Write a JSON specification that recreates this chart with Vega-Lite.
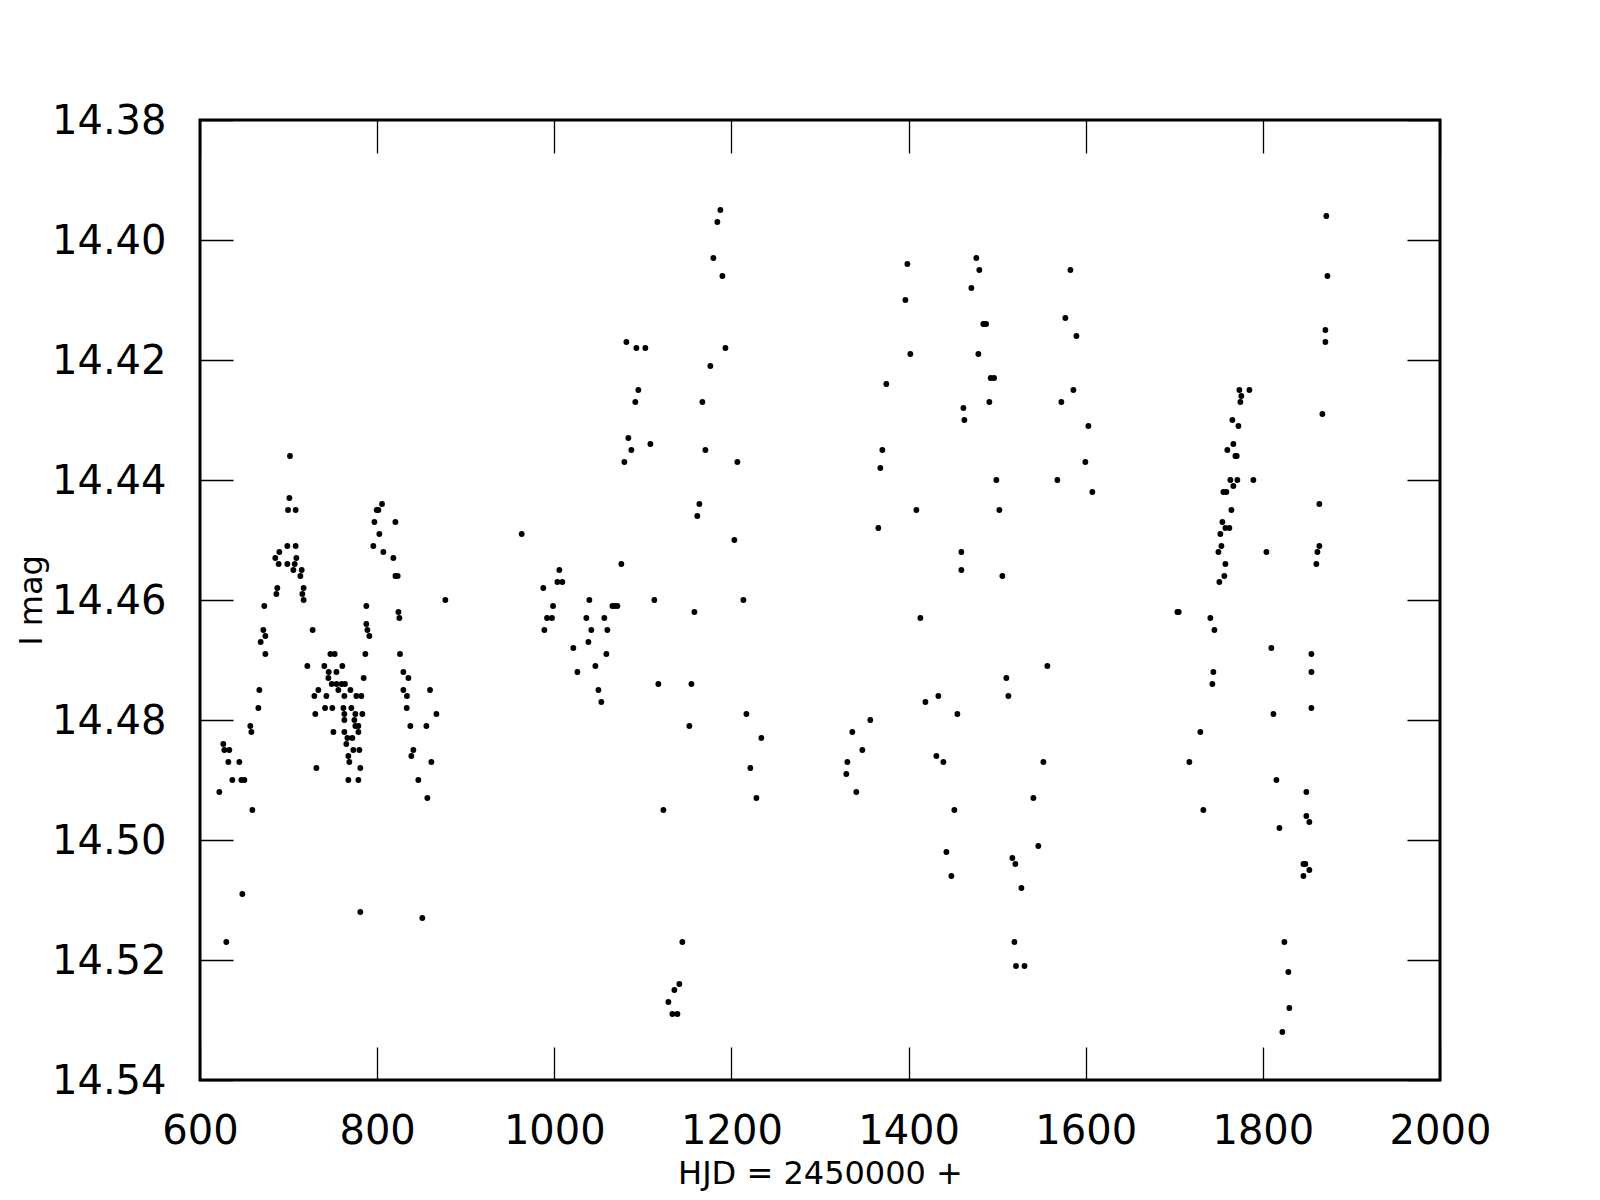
{
  "$schema": "https://vega.github.io/schema/vega-lite/v6.json",
  "width": 1240,
  "height": 960,
  "autosize": "none",
  "padding": {"left": 200, "top": 120, "right": 160, "bottom": 120},
  "background": "white",
  "config": {
    "view": {"stroke": "black", "strokeWidth": 3},
    "axis": {"grid": false, "domain": false, "labelFont": "DejaVu Sans", "titleFont": "DejaVu Sans", "labelColor": "black", "titleColor": "black", "tickColor": "black", "tickWidth": 1.3, "tickSize": -33, "labelFontSize": 40, "titleFontSize": 32, "titleFontWeight": "normal"}
  },
  "data": {"values": [
    {"hjd":701.6,"mag":14.436},{"hjd":700.9,"mag":14.443},{"hjd":699.4,"mag":14.445},{"hjd":708,"mag":14.445},{"hjd":698.6,"mag":14.451},{"hjd":708,"mag":14.451},{"hjd":689.6,"mag":14.452},{"hjd":685,"mag":14.453},{"hjd":708.8,"mag":14.453},{"hjd":688.8,"mag":14.454},{"hjd":698.6,"mag":14.454},{"hjd":706.9,"mag":14.454},{"hjd":705.4,"mag":14.455},{"hjd":714.8,"mag":14.455},{"hjd":713.3,"mag":14.456},{"hjd":687.3,"mag":14.458},{"hjd":717,"mag":14.458},{"hjd":686.2,"mag":14.459},{"hjd":715.6,"mag":14.459},{"hjd":717,"mag":14.46},{"hjd":672.6,"mag":14.461},{"hjd":671.5,"mag":14.465},{"hjd":727.2,"mag":14.465},{"hjd":673.8,"mag":14.466},{"hjd":668.5,"mag":14.467},{"hjd":673.8,"mag":14.469},{"hjd":667,"mag":14.475},{"hjd":665.9,"mag":14.478},
    {"hjd":805.5,"mag":14.444},{"hjd":799.5,"mag":14.445},{"hjd":801.4,"mag":14.445},{"hjd":796.9,"mag":14.447},{"hjd":820.6,"mag":14.447},{"hjd":802.5,"mag":14.449},{"hjd":795.7,"mag":14.451},{"hjd":807,"mag":14.452},{"hjd":818.3,"mag":14.453},{"hjd":820.6,"mag":14.456},{"hjd":823.2,"mag":14.456},{"hjd":877,"mag":14.46},{"hjd":787.8,"mag":14.461},{"hjd":824,"mag":14.462},{"hjd":825.1,"mag":14.463},{"hjd":787.8,"mag":14.464},{"hjd":789,"mag":14.465},{"hjd":791.2,"mag":14.466},{"hjd":786.7,"mag":14.469},{"hjd":825.8,"mag":14.469},{"hjd":829.6,"mag":14.472},{"hjd":835.3,"mag":14.473},{"hjd":784.8,"mag":14.473},{"hjd":829.6,"mag":14.475},{"hjd":859.7,"mag":14.475},{"hjd":833.7,"mag":14.476},{"hjd":833.4,"mag":14.478},{"hjd":866.9,"mag":14.479},
    {"hjd":747.2,"mag":14.469},{"hjd":752.1,"mag":14.469},{"hjd":721.2,"mag":14.471},{"hjd":740.4,"mag":14.471},{"hjd":760.7,"mag":14.471},{"hjd":745.3,"mag":14.472},{"hjd":754,"mag":14.472},{"hjd":744.9,"mag":14.473},{"hjd":748.7,"mag":14.474},{"hjd":754.3,"mag":14.474},{"hjd":760,"mag":14.474},{"hjd":763.7,"mag":14.474},{"hjd":733.6,"mag":14.475},{"hjd":756.2,"mag":14.475},{"hjd":769.8,"mag":14.475},{"hjd":729.1,"mag":14.476},{"hjd":742.7,"mag":14.476},{"hjd":763,"mag":14.476},{"hjd":776.5,"mag":14.476},{"hjd":782.2,"mag":14.476},{"hjd":741.2,"mag":14.478},{"hjd":749.4,"mag":14.478},{"hjd":761.9,"mag":14.478},{"hjd":770.9,"mag":14.478},{"hjd":730.2,"mag":14.479},{"hjd":763,"mag":14.479},{"hjd":775.4,"mag":14.479},{"hjd":783.3,"mag":14.479},
    {"hjd":763,"mag":14.48},{"hjd":774.3,"mag":14.48},{"hjd":656.8,"mag":14.481},{"hjd":775.4,"mag":14.481},{"hjd":778.8,"mag":14.481},{"hjd":837.5,"mag":14.481},{"hjd":855.6,"mag":14.481},{"hjd":658,"mag":14.482},{"hjd":750.6,"mag":14.482},{"hjd":763,"mag":14.482},{"hjd":778.8,"mag":14.482},{"hjd":766.4,"mag":14.483},{"hjd":772,"mag":14.483},{"hjd":626.3,"mag":14.484},{"hjd":765.2,"mag":14.484},{"hjd":627.5,"mag":14.485},{"hjd":633.1,"mag":14.485},{"hjd":773.1,"mag":14.485},{"hjd":779.9,"mag":14.485},{"hjd":840.9,"mag":14.485},{"hjd":767.5,"mag":14.486},{"hjd":838.6,"mag":14.486},{"hjd":632,"mag":14.487},{"hjd":644.4,"mag":14.487},{"hjd":768.6,"mag":14.487},{"hjd":861.2,"mag":14.487},{"hjd":731.4,"mag":14.488},{"hjd":781,"mag":14.488},{"hjd":636.5,"mag":14.49},{"hjd":646.7,"mag":14.49},{"hjd":650.1,"mag":14.49},{"hjd":767.5,"mag":14.49},{"hjd":778.8,"mag":14.49},{"hjd":846.5,"mag":14.49},{"hjd":621.8,"mag":14.492},{"hjd":856.7,"mag":14.493},{"hjd":659.1,"mag":14.495},{"hjd":647.8,"mag":14.509},{"hjd":781,"mag":14.512},{"hjd":851,"mag":14.513},{"hjd":629.7,"mag":14.517},
    {"hjd":1187.5,"mag":14.395},{"hjd":1184.1,"mag":14.397},{"hjd":1179.6,"mag":14.403},{"hjd":1189.8,"mag":14.406},{"hjd":1081.4,"mag":14.417},{"hjd":1092.7,"mag":14.418},{"hjd":1102.8,"mag":14.418},{"hjd":1193.2,"mag":14.418},{"hjd":1176.2,"mag":14.421},{"hjd":1094.9,"mag":14.425},{"hjd":1091.5,"mag":14.427},{"hjd":1167.2,"mag":14.427},{"hjd":1083.6,"mag":14.433},{"hjd":1108.5,"mag":14.434},{"hjd":1087,"mag":14.435},{"hjd":1170.6,"mag":14.435},{"hjd":1079.1,"mag":14.437},{"hjd":1206.7,"mag":14.437},{"hjd":1163.8,"mag":14.444},{"hjd":1161.5,"mag":14.446},{"hjd":1203.3,"mag":14.45},{"hjd":963.2,"mag":14.449},{"hjd":1075.7,"mag":14.454},{"hjd":1005.7,"mag":14.455},
    {"hjd":1003.5,"mag":14.457},{"hjd":1009.1,"mag":14.457},{"hjd":987.6,"mag":14.458},{"hjd":1039.6,"mag":14.46},{"hjd":1113,"mag":14.46},{"hjd":1213.5,"mag":14.46},{"hjd":998.6,"mag":14.461},{"hjd":1065.6,"mag":14.461},{"hjd":1068.2,"mag":14.461},{"hjd":1071.2,"mag":14.461},{"hjd":1158.2,"mag":14.462},{"hjd":991.8,"mag":14.463},{"hjd":997.4,"mag":14.463},{"hjd":1036.2,"mag":14.463},{"hjd":1056.5,"mag":14.463},{"hjd":988.8,"mag":14.465},{"hjd":1041.8,"mag":14.465},{"hjd":1059.9,"mag":14.465},{"hjd":1038.5,"mag":14.467},{"hjd":1021.5,"mag":14.468},{"hjd":1058.8,"mag":14.469},{"hjd":1046.4,"mag":14.471},{"hjd":1026.1,"mag":14.472},{"hjd":1117.5,"mag":14.474},{"hjd":1154.8,"mag":14.474},{"hjd":1049.8,"mag":14.475},{"hjd":1053.1,"mag":14.477},{"hjd":1216.9,"mag":14.479},{"hjd":1152.5,"mag":14.481},{"hjd":1233.8,"mag":14.483},{"hjd":1221.4,"mag":14.488},{"hjd":1228.2,"mag":14.493},{"hjd":1123.2,"mag":14.495},{"hjd":1144.6,"mag":14.517},{"hjd":1141.2,"mag":14.524},{"hjd":1135.6,"mag":14.525},{"hjd":1128.8,"mag":14.527},{"hjd":1133.3,"mag":14.529},{"hjd":1139,"mag":14.529},
    {"hjd":1476.5,"mag":14.403},{"hjd":1398.6,"mag":14.404},{"hjd":1479.9,"mag":14.405},{"hjd":1582.7,"mag":14.405},{"hjd":1470.9,"mag":14.408},{"hjd":1396.4,"mag":14.41},{"hjd":1577,"mag":14.413},{"hjd":1484.4,"mag":14.414},{"hjd":1487.5,"mag":14.414},{"hjd":1589.5,"mag":14.416},{"hjd":1402,"mag":14.419},{"hjd":1478.8,"mag":14.419},{"hjd":1374.9,"mag":14.424},{"hjd":1492.7,"mag":14.423},{"hjd":1496.5,"mag":14.423},{"hjd":1586.1,"mag":14.425},{"hjd":1491.2,"mag":14.427},{"hjd":1572.5,"mag":14.427},{"hjd":1461.9,"mag":14.428},{"hjd":1463,"mag":14.43},{"hjd":1603,"mag":14.431},{"hjd":1370.4,"mag":14.435},{"hjd":1368.1,"mag":14.438},{"hjd":1599.6,"mag":14.437},{"hjd":1499.1,"mag":14.44},{"hjd":1568,"mag":14.44},{"hjd":1607.5,"mag":14.442},{"hjd":1408.8,"mag":14.445},{"hjd":1502.5,"mag":14.445},{"hjd":1365.9,"mag":14.448},{"hjd":1459.6,"mag":14.452},{"hjd":1459.6,"mag":14.455},{"hjd":1505.9,"mag":14.456},{"hjd":1413.3,"mag":14.463},
    {"hjd":1556.7,"mag":14.471},{"hjd":1510.4,"mag":14.473},{"hjd":1433.6,"mag":14.476},{"hjd":1419,"mag":14.477},{"hjd":1512.7,"mag":14.476},{"hjd":1455.1,"mag":14.479},{"hjd":1356.8,"mag":14.48},{"hjd":1336.5,"mag":14.482},{"hjd":1347.8,"mag":14.485},{"hjd":1431.4,"mag":14.486},{"hjd":1439.3,"mag":14.487},{"hjd":1552.2,"mag":14.487},{"hjd":1330.9,"mag":14.487},{"hjd":1329.7,"mag":14.489},{"hjd":1341,"mag":14.492},{"hjd":1540.9,"mag":14.493},{"hjd":1451.7,"mag":14.495},{"hjd":1546.5,"mag":14.501},{"hjd":1442.7,"mag":14.502},{"hjd":1517.2,"mag":14.503},{"hjd":1520.6,"mag":14.504},{"hjd":1448.3,"mag":14.506},{"hjd":1527.4,"mag":14.508},{"hjd":1519.5,"mag":14.517},{"hjd":1521.3,"mag":14.521},{"hjd":1530.9,"mag":14.521},
    {"hjd":1871.7,"mag":14.396},{"hjd":1872.9,"mag":14.406},{"hjd":1870.6,"mag":14.415},{"hjd":1870.6,"mag":14.417},{"hjd":1773.5,"mag":14.425},{"hjd":1784.8,"mag":14.425},{"hjd":1775.7,"mag":14.426},{"hjd":1774.6,"mag":14.427},{"hjd":1867.2,"mag":14.429},{"hjd":1765.6,"mag":14.43},{"hjd":1772.4,"mag":14.431},{"hjd":1766.7,"mag":14.434},{"hjd":1759.9,"mag":14.435},{"hjd":1769,"mag":14.436},{"hjd":1770.5,"mag":14.436},{"hjd":1763.3,"mag":14.44},{"hjd":1771.2,"mag":14.44},{"hjd":1789.3,"mag":14.44},{"hjd":1766.7,"mag":14.441},{"hjd":1755.4,"mag":14.442},{"hjd":1758.8,"mag":14.442},{"hjd":1863.8,"mag":14.444},{"hjd":1764.5,"mag":14.445},{"hjd":1754.3,"mag":14.447},{"hjd":1757.7,"mag":14.448},{"hjd":1762.2,"mag":14.448},{"hjd":1752,"mag":14.449},{"hjd":1753.2,"mag":14.451},{"hjd":1863.8,"mag":14.451},{"hjd":1749.8,"mag":14.452},{"hjd":1804,"mag":14.452},{"hjd":1861.6,"mag":14.452},{"hjd":1757.7,"mag":14.454},{"hjd":1860.4,"mag":14.454},{"hjd":1756.5,"mag":14.456},{"hjd":1750.9,"mag":14.457},
    {"hjd":1703.5,"mag":14.462},{"hjd":1705,"mag":14.462},{"hjd":1740.7,"mag":14.463},{"hjd":1745.3,"mag":14.465},{"hjd":1809.6,"mag":14.468},{"hjd":1854.8,"mag":14.469},{"hjd":1744.1,"mag":14.472},{"hjd":1854.8,"mag":14.472},{"hjd":1743,"mag":14.474},{"hjd":1854.8,"mag":14.478},{"hjd":1811.9,"mag":14.479},{"hjd":1729.4,"mag":14.482},{"hjd":1717,"mag":14.487},{"hjd":1815.3,"mag":14.49},{"hjd":1849.1,"mag":14.492},{"hjd":1732.8,"mag":14.495},{"hjd":1849.1,"mag":14.496},{"hjd":1852.5,"mag":14.497},{"hjd":1818.7,"mag":14.498},{"hjd":1845.8,"mag":14.504},{"hjd":1848,"mag":14.504},{"hjd":1852.5,"mag":14.505},{"hjd":1845.8,"mag":14.506},{"hjd":1824.3,"mag":14.517},{"hjd":1828.8,"mag":14.522},{"hjd":1829.9,"mag":14.528},{"hjd":1822,"mag":14.532}
  ]},
  "layer": [
    {
      "mark": {"type": "circle", "color": "black", "opacity": 1, "size": 34},
      "encoding": {
        "x": {"field": "hjd", "type": "quantitative", "scale": {"domain": [600, 2000], "nice": false, "zero": false},
              "axis": {"orient": "bottom", "values": [600, 800, 1000, 1200, 1400, 1600, 1800, 2000], "format": "d", "labelPadding": 64, "title": "HJD = 2450000 +", "titlePadding": 7, "labelFlush": false, "labelOverlap": false}},
        "y": {"field": "mag", "type": "quantitative", "scale": {"domain": [14.38, 14.54], "reverse": true, "nice": false, "zero": false},
              "axis": {"orient": "left", "values": [14.38, 14.40, 14.42, 14.44, 14.46, 14.48, 14.50, 14.52, 14.54], "format": ".2f", "labelPadding": 67, "labelOffset": 1, "title": "I mag", "titlePadding": 3, "labelFlush": false, "labelOverlap": false}}
      }
    },
    {
      "mark": {"type": "circle", "opacity": 0},
      "encoding": {
        "x": {"field": "hjd", "type": "quantitative", "axis": {"orient": "top", "values": [600, 800, 1000, 1200, 1400, 1600, 1800, 2000], "labels": false, "title": null}},
        "y": {"field": "mag", "type": "quantitative", "axis": {"orient": "right", "values": [14.38, 14.40, 14.42, 14.44, 14.46, 14.48, 14.50, 14.52, 14.54], "labels": false, "title": null}}
      }
    }
  ],
  "resolve": {"axis": {"x": "independent", "y": "independent"}}
}
